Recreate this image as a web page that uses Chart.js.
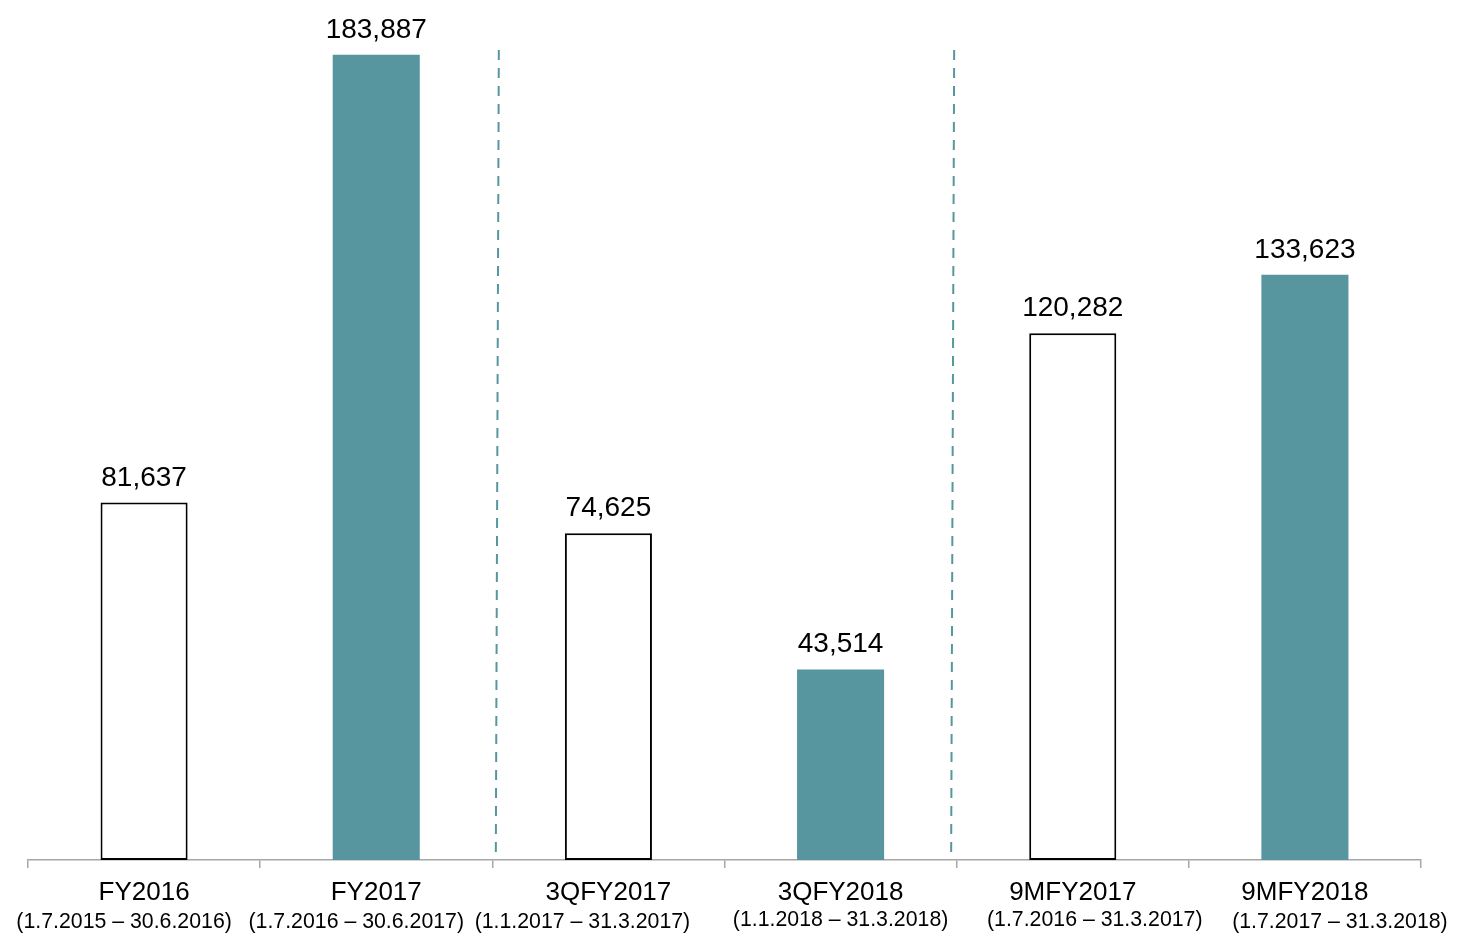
<!DOCTYPE html>
<html lang="en">

<head>
    <meta charset="UTF-8">
    <title>Bar chart</title>
    <style>
        body { margin: 0; background: #fff; }
    </style>
</head>

<body>

    <div style="width: 1460px; height: 944px;">
        <canvas id="myChart"></canvas>
    </div>
    <script src="https://cdn.jsdelivr.net/npm/chart.js"></script>
    <script>
        // chart data
        const categories = ['FY2016', 'FY2017', '3QFY2017', '3QFY2018', '9MFY2017', '9MFY2018'];
        const periods = [
            '(1.7.2015 \u2013 30.6.2016)',
            '(1.7.2016 \u2013 30.6.2017)',
            '(1.1.2017 \u2013 31.3.2017)',
            '(1.1.2018 \u2013 31.3.2018)',
            '(1.7.2016 \u2013 31.3.2017)',
            '(1.7.2017 \u2013 31.3.2018)'
        ];
        const values = [81637, 183887, 74625, 43514, 120282, 133623];

        const teal = '#57969f';
        const fontFamily = '"Liberation Sans", Arial, sans-serif';

        // the period lines are not centred under the categories in the original
        const periodShift = [[-20, 0], [-20, 0], [-26, 0], [0, -2], [22, -2], [35, 0]];

        // label text above bars + two-line category labels + dashed dividers
        const labelPlugin = {
            id: 'labelPlugin',
            afterDraw(chart) {
                const ctx = chart.ctx;
                const xs = chart.scales.x;
                const meta = chart.getDatasetMeta(0);

                ctx.save();
                ctx.fillStyle = '#000';
                ctx.textAlign = 'center';
                ctx.textBaseline = 'alphabetic';

                // value labels
                ctx.font = '28px ' + fontFamily;
                meta.data.forEach((bar, i) => {
                    ctx.fillText(values[i].toLocaleString('en-US'), bar.x, bar.y - 17);
                });

                // category labels
                categories.forEach((c, i) => {
                    const x = xs.getPixelForValue(i);
                    ctx.font = '26px ' + fontFamily;
                    ctx.fillText(c, x, 900);
                    ctx.font = '21.3px ' + fontFamily;
                    ctx.fillText(periods[i], x + periodShift[i][0], 928 + periodShift[i][1]);
                });

                // dashed separators
                ctx.strokeStyle = teal;
                ctx.lineWidth = 2;
                ctx.setLineDash([10, 8]);
                [[1, 5], [3, -4]].forEach(([i, off]) => {
                    const x = (xs.getPixelForValue(i) + xs.getPixelForValue(i + 1)) / 2 + off;
                    ctx.beginPath();
                    ctx.moveTo(x + 1.5, 50);
                    ctx.lineTo(x - 1.5, 852);
                    ctx.stroke();
                });
                ctx.restore();
            }
        };

        const ctx = document.getElementById('myChart');
        const myChart = new Chart(ctx, {
            type: 'bar',
            data: {
                labels: categories,
                datasets: [{
                    data: values,
                    backgroundColor: values.map((v, i) => i % 2 ? teal : '#ffffff'),
                    borderColor: values.map((v, i) => i % 2 ? teal : '#000000'),
                    borderWidth: values.map((v, i) => i % 2 ? 0 : 2),
                    borderSkipped: false,
                    barPercentage: 0.375,
                    categoryPercentage: 1
                }]
            },
            options: {
                responsive: true,
                maintainAspectRatio: false,
                animation: false,
                layout: {
                    padding: { top: 28, left: 28, right: 39, bottom: 0 }
                },
                plugins: {
                    legend: { display: false },
                    tooltip: { enabled: false }
                },
                scales: {
                    x: {
                        offset: true,
                        ticks: { display: false },
                        grid: {
                            display: true,
                            offset: true,
                            drawOnChartArea: false,
                            drawTicks: true,
                            tickLength: 8,
                            color: '#a6a6a6',
                            lineWidth: 1.5
                        },
                        border: { display: true, color: '#a6a6a6', width: 1.5 },
                        afterFit(scale) { scale.height = 84; }
                    },
                    y: {
                        display: false,
                        min: 0,
                        max: 190000
                    }
                }
            },
            plugins: [labelPlugin]
        });
    </script>

</body>

</html>
